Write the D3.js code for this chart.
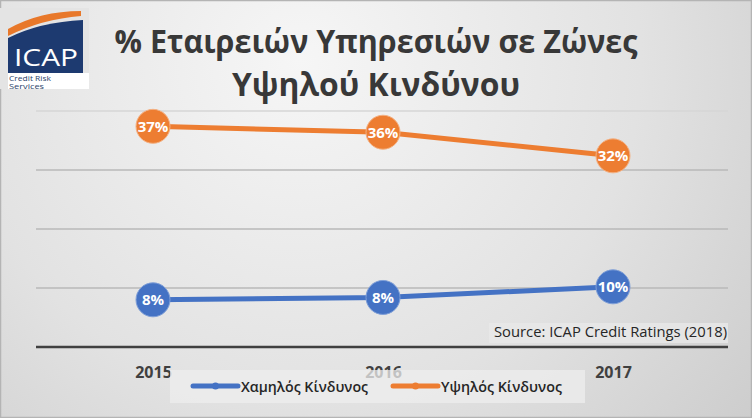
<!DOCTYPE html>
<html>
<head>
<meta charset="utf-8">
<script src="https://cdn.jsdelivr.net/npm/d3@7"></script>
<style>
  html, body { margin: 0; padding: 0; background: #fff; }
  svg { display: block; }
</style>
</head>
<body>
<svg id="chart" width="752" height="418"></svg>
<script>
// ---- data ----
const years = ["2015", "2016", "2017"];
const lowRisk = [8.0, 8.4, 10.2];
const highRisk = [37.4, 36.4, 32.4];
const seriesNames = ["Χαμηλός Κίνδυνος", "Υψηλός Κίνδυνος"];
const yTicks = [0, 10, 20, 30, 40];
const titleLines = ["% Εταιρειών Υπηρεσιών σε Ζώνες", "Υψηλού Κινδύνου"];
const sourceText = "Source: ICAP Credit Ratings (2018)";

const colors = ["#4472C4", "#ED7D31"];
const strokeTint = ["#7f9fd8", "#f4b183"];

const W = 752, H = 418;
const svg = d3.select("#chart");
const defs = svg.append("defs");

// background gradient
const rg = defs.append("radialGradient").attr("id", "bg")
  .attr("gradientUnits", "userSpaceOnUse")
  .attr("cx", 300).attr("cy", 60).attr("r", 620);
rg.append("stop").attr("offset", "0").attr("stop-color", "#f6f6f6");
rg.append("stop").attr("offset", "0.55").attr("stop-color", "#e2e2e2");
rg.append("stop").attr("offset", "1").attr("stop-color", "#c9c9c9");

svg.append("rect").attr("width", W).attr("height", H).attr("fill", "url(#bg)");
svg.append("rect").attr("x", 0.5).attr("y", 0.5).attr("width", W - 1).attr("height", H - 1)
  .attr("fill", "none").attr("stroke", "#b4b4b4").attr("stroke-width", 1.5);

// scales
const x = d3.scalePoint().domain(years).range([38, 728]).padding(0.5);
const y = d3.scaleLinear().domain([0, 40]).range([347, 111]);

// gridlines
svg.append("g").selectAll("line").data(yTicks.filter(d => d > 0)).join("line")
  .attr("x1", 36).attr("x2", 728)
  .attr("y1", d => y(d)).attr("y2", d => y(d))
  .attr("stroke", d => d === 40 ? "#d6d6d6" : "#b8b8b8").attr("stroke-width", 1.5);

// source box + text
const src = svg.append("g");
src.append("rect").attr("x", 489).attr("y", 323).attr("width", 239).attr("height", 20)
  .attr("fill", "#e8e8e8").attr("opacity", 0.8);
src.append("text").attr("x", 727).attr("y", 337).attr("text-anchor", "end")
  .attr("font-family", "'Open Sans', sans-serif").attr("font-size", 14)
  .attr("fill", "#262626").attr("textLength", 233).attr("lengthAdjust", "spacingAndGlyphs")
  .text(sourceText);

// x axis
const xAxis = d3.axisBottom(x).tickSize(0).tickPadding(0);
const gx = svg.append("g").attr("transform", `translate(0,${y(0)})`).call(xAxis);
gx.select(".domain").attr("d", "M36,0H728").attr("stroke", "#404040").attr("stroke-width", 2.5);
gx.selectAll(".tick text")
  .attr("y", 31).attr("dy", null)
  .attr("font-family", "'Open Sans', sans-serif").attr("font-weight", "bold")
  .attr("font-size", 16).attr("fill", "#404040");

// lines and markers
const series = [lowRisk, highRisk];
const line = d3.line().x((d, i) => x(years[i])).y(d => y(d));
const sg = svg.append("g").selectAll("g").data(series).join("g");
sg.append("path").attr("d", d => line(d)).attr("fill", "none")
  .attr("stroke", (d, i) => colors[i]).attr("stroke-width", 5).attr("stroke-linecap", "round");
sg.each(function(vals, si) {
  const g = d3.select(this);
  g.selectAll("circle").data(vals).join("circle")
    .attr("cx", (d, i) => x(years[i])).attr("cy", d => y(d)).attr("r", 17)
    .attr("fill", colors[si]).attr("stroke", strokeTint[si]).attr("stroke-width", 1);
  g.selectAll("text").data(vals).join("text")
    .attr("x", (d, i) => x(years[i])).attr("y", d => y(d)).attr("dy", "0.36em")
    .attr("text-anchor", "middle")
    .attr("font-family", "'Open Sans', sans-serif").attr("font-weight", "bold")
    .attr("font-size", 15).attr("fill", "#ffffff")
    .text(d => Math.round(d) + "%");
});

// legend
const lg = svg.append("g");
lg.append("rect").attr("x", 170).attr("y", 370).attr("width", 415).attr("height", 33)
  .attr("fill", "#eeeeee").attr("opacity", 0.75);
const legendX = [193, 393];
const legendTextW = [127, 121];
seriesNames.forEach((name, i) => {
  const lx = legendX[i];
  lg.append("line").attr("x1", lx).attr("x2", lx + 45).attr("y1", 386).attr("y2", 386)
    .attr("stroke", colors[i]).attr("stroke-width", 5).attr("stroke-linecap", "round");
  lg.append("circle").attr("cx", lx + 22.5).attr("cy", 386).attr("r", 3.5).attr("fill", colors[i]);
  lg.append("text").attr("x", lx + 48).attr("y", 392)
    .attr("font-family", "'Open Sans', sans-serif").attr("font-size", 15)
    .attr("font-weight", 600)
    .attr("fill", "#262626").attr("textLength", legendTextW[i]).attr("lengthAdjust", "spacingAndGlyphs")
    .text(name);
});

// title
const tl = svg.append("g");
const titleY = [53, 96];
const titleW = [523, 288];
titleLines.forEach((t, i) => {
  tl.append("text").attr("x", 376).attr("y", titleY[i]).attr("text-anchor", "middle")
    .attr("font-family", "'Open Sans', sans-serif").attr("font-weight", "bold")
    .attr("font-size", 32).attr("fill", "#383838")
    .attr("textLength", titleW[i]).attr("lengthAdjust", "spacingAndGlyphs")
    .text(t);
});

// ICAP logo
const logo = svg.append("g");
logo.append("rect").attr("x", 0).attr("y", 8).attr("width", 89).attr("height", 81).attr("fill", "#e4e4e4");
logo.append("path")
  .attr("d", "M8,38 Q40,22 83,20 L83,73 L8,73 Z").attr("fill", "#1d3a70");
logo.append("path")
  .attr("d", "M8,29 Q40,11 81,11 L81,16 Q42,19 8,36 Z").attr("fill", "#e8782a");
logo.append("rect").attr("x", 8).attr("y", 73).attr("width", 81).attr("height", 16).attr("fill", "#ffffff");
logo.append("text").attr("x", 14).attr("y", 66)
  .attr("font-family", "'Open Sans', sans-serif").attr("font-size", 24)
  .attr("fill", "#ffffff").attr("textLength", 64).attr("lengthAdjust", "spacingAndGlyphs")
  .text("ICAP");
logo.append("text").attr("x", 9).attr("y", 80.5)
  .attr("font-family", "'Open Sans', sans-serif").attr("font-size", 7)
  .attr("fill", "#2b3f6b").attr("textLength", 42).attr("lengthAdjust", "spacingAndGlyphs")
  .text("Credit Risk");
logo.append("text").attr("x", 9).attr("y", 89)
  .attr("font-family", "'Open Sans', sans-serif").attr("font-size", 7)
  .attr("fill", "#2b3f6b").attr("textLength", 35).attr("lengthAdjust", "spacingAndGlyphs")
  .text("Services");
</script>
</body>
</html>
